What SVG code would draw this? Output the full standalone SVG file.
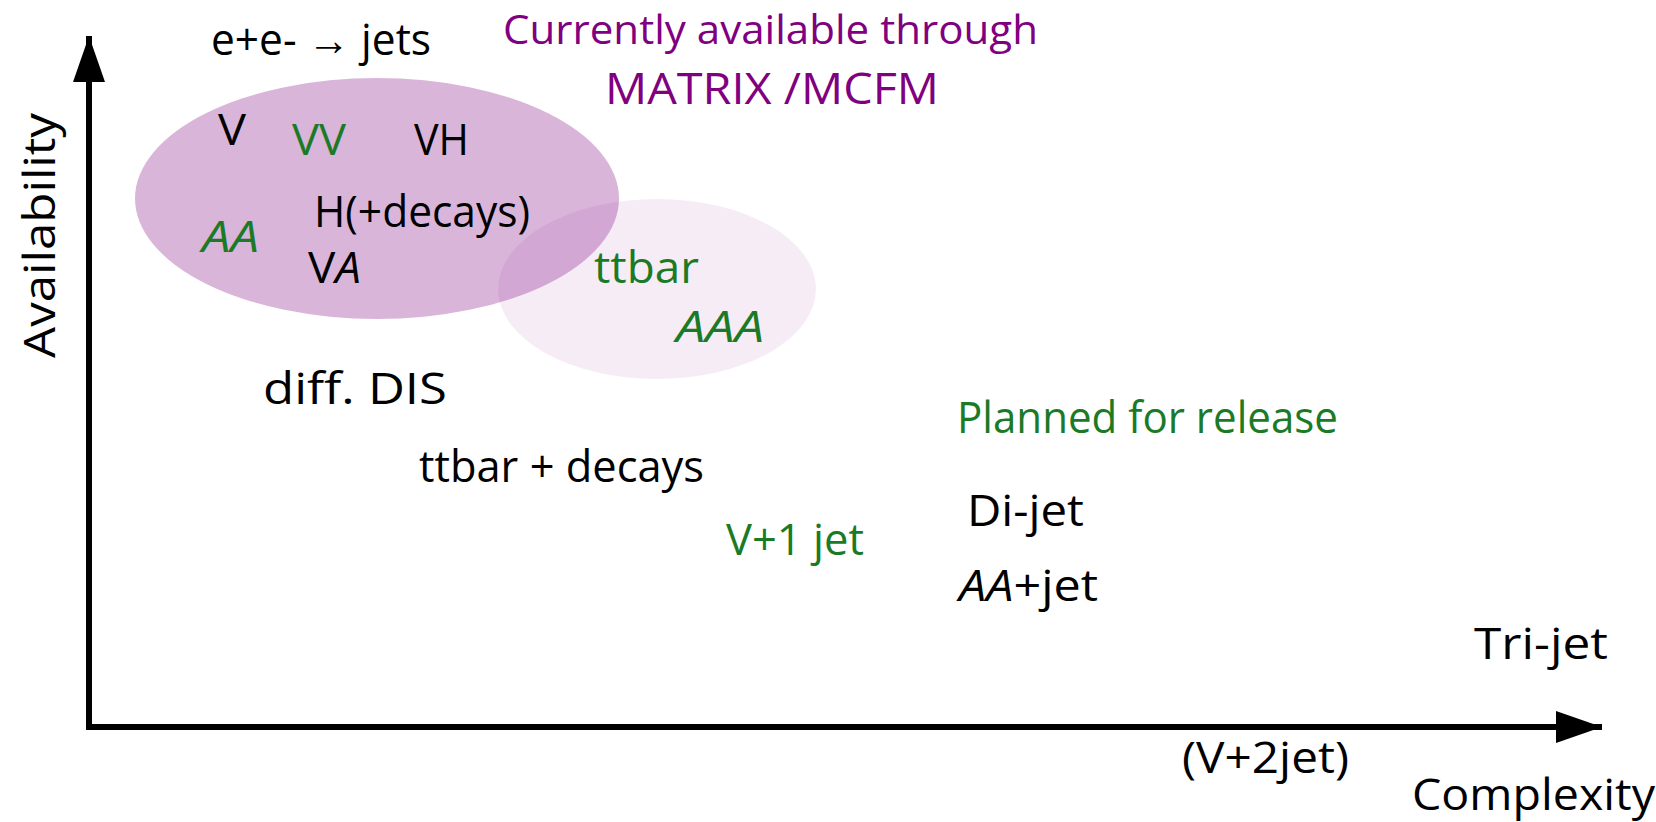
<svg xmlns="http://www.w3.org/2000/svg" width="1656" height="822" viewBox="0 0 1656 822">
<style>
text{font-family:"Open Sans","Liberation Sans",sans-serif;font-size:44px;}
.k{fill:#000;}
.g{fill:#1b7a25;}
.p{fill:#800080;}
.i{font-style:italic;}
.sm{font-size:40px;}
.axis{stroke:#000;stroke-width:6;fill:none;}
</style>
<defs>
<marker id="arr" markerUnits="userSpaceOnUse" markerWidth="50" markerHeight="34" refX="46" refY="16" orient="auto">
<path d="M0,0 L46,16 L0,32 Z" fill="#000"/>
</marker>
</defs>
<rect width="1656" height="822" fill="#fff"/>
<g id="region-light">
<ellipse cx="657" cy="289" rx="159" ry="90" fill="#800080" fill-opacity="0.075"/>
</g>
<g id="region-matrix">
<ellipse cx="377" cy="198.5" rx="242" ry="120.5" fill="#800080" fill-opacity="0.29"/>
</g>
<g id="connectors">
<line class="axis" x1="89" y1="730" x2="89" y2="36" marker-end="url(#arr)"/>
<line class="axis" x1="86" y1="727" x2="1602" y2="727" marker-end="url(#arr)"/>
</g>
<g id="label-availability"><text class="k" transform="translate(55,358) rotate(-90)" textLength="245" lengthAdjust="spacingAndGlyphs">Availability</text></g>
<g id="label-complexity"><text class="k" x="1412" y="810" textLength="243" lengthAdjust="spacingAndGlyphs">Complexity</text></g>
<g id="title-current"><text class="p sm" x="503" y="44" textLength="535" lengthAdjust="spacingAndGlyphs">Currently available through</text>
<text class="p" x="605" y="104" textLength="334" lengthAdjust="spacingAndGlyphs">MATRIX /MCFM</text></g>
<g id="n-eejets"><text class="k" x="211" y="55" textLength="220" lengthAdjust="spacingAndGlyphs">e+e- → jets</text></g>
<g id="n-V"><text class="k" x="218" y="145" textLength="28" lengthAdjust="spacingAndGlyphs">V</text></g>
<g id="n-VV"><text class="g" x="292" y="155" textLength="54" lengthAdjust="spacingAndGlyphs">VV</text></g>
<g id="n-VH"><text class="k" x="414" y="155" textLength="55" lengthAdjust="spacingAndGlyphs">VH</text></g>
<g id="n-H"><text class="k" x="314" y="227" textLength="216" lengthAdjust="spacingAndGlyphs">H(+decays)</text></g>
<g id="n-AA"><text class="g i" x="202" y="252" textLength="57" lengthAdjust="spacingAndGlyphs">AA</text></g>
<g id="n-VA"><text class="k" x="308" y="283" textLength="53" lengthAdjust="spacingAndGlyphs">V<tspan class="i">A</tspan></text></g>
<g id="n-ttbar"><text class="g" x="594" y="283" textLength="105" lengthAdjust="spacingAndGlyphs">ttbar</text></g>
<g id="n-AAA"><text class="g i" x="676" y="342" textLength="88" lengthAdjust="spacingAndGlyphs">AAA</text></g>
<g id="n-diffDIS"><text class="k" x="263" y="404" textLength="184" lengthAdjust="spacingAndGlyphs">diff. DIS</text></g>
<g id="n-ttbardecays"><text class="k" x="419" y="482" textLength="285" lengthAdjust="spacingAndGlyphs">ttbar + decays</text></g>
<g id="n-V1jet"><text class="g" x="726" y="555" textLength="138" lengthAdjust="spacingAndGlyphs">V+1 jet</text></g>
<g id="title-planned"><text class="g" x="957" y="433" textLength="381" lengthAdjust="spacingAndGlyphs">Planned for release</text></g>
<g id="n-dijet"><text class="k" x="967" y="526" textLength="117" lengthAdjust="spacingAndGlyphs">Di-jet</text></g>
<g id="n-AAjet"><text class="k" x="959" y="601" textLength="139" lengthAdjust="spacingAndGlyphs"><tspan class="i">AA</tspan>+jet</text></g>
<g id="n-trijet"><text class="k" x="1474" y="659" textLength="134" lengthAdjust="spacingAndGlyphs">Tri-jet</text></g>
<g id="n-V2jet"><text class="k" x="1182" y="773" textLength="167" lengthAdjust="spacingAndGlyphs">(V+2jet)</text></g>
</svg>
